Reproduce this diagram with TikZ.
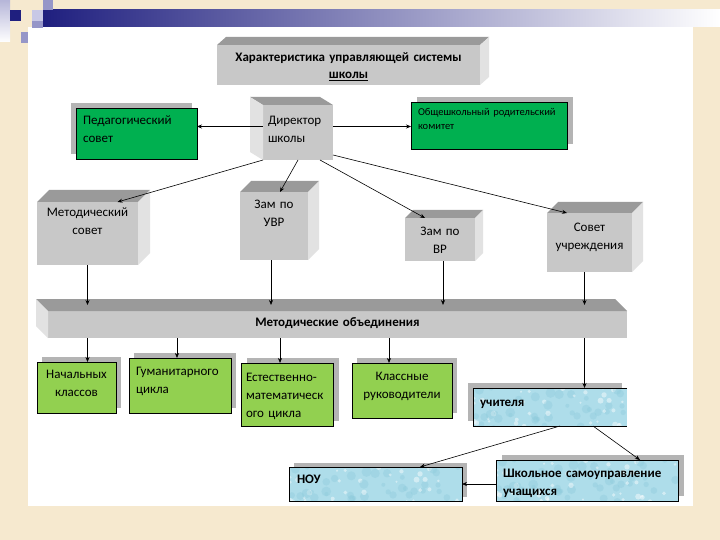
\documentclass[tikz,border=0pt]{standalone}
\usepackage{fontspec}
\setmainfont{Carlito}
\usetikzlibrary{positioning,arrows.meta,shadows,backgrounds}
\definecolor{parch}{HTML}{F6E9CF}
\definecolor{navy}{HTML}{1F1F7F}
\definecolor{lav}{HTML}{C8C8E6}
\definecolor{lavd}{HTML}{9696C8}
\definecolor{barmid}{HTML}{ABABC2}
\definecolor{frontc}{HTML}{C8C8C8}
\definecolor{topc}{HTML}{9A9A9A}
\definecolor{sidec}{HTML}{E2E2E2}
\definecolor{grn}{HTML}{00B050}
\definecolor{lgrn}{HTML}{92D050}
\definecolor{waterc}{HTML}{AEDDEA}
\definecolor{waterd}{HTML}{8ECBDC}
\definecolor{shdc}{HTML}{B4B4B4}

\begin{document}
\begin{tikzpicture}[x=1pt,y=-1pt,
  every node/.style={outer sep=0pt,inner ysep=0pt},
  fr/.style n args={4}{text width=#1pt,inner xsep=#2pt,text height=#3pt,text depth=#4pt},
  cube/.style={fill=frontc,align=center,rm},
  flat/.style={draw,line width=.8pt,rm},
  shadowed/.style 2 args={general shadow={fill=shdc,shadow xshift=#1pt,shadow yshift=#2pt}},
  water/.style={fill=waterc,path picture={
    \pgfmathsetseed{11}
    \foreach \k in {1,...,45}{
      \fill[waterd,opacity=.4] ([shift={({rnd*185},{rnd*45})}]path picture bounding box.north west) circle ({2+3*rnd});
      \fill[white,opacity=.45] ([shift={({rnd*185},{rnd*45})}]path picture bounding box.north west) circle ({1+2*rnd});
    }}},
  arr/.style={-{Stealth[length=5pt,width=4pt]},line width=.6pt},
  rm/.style={font=\fontsize{13}{18}\selectfont},
  bf/.style={font=\fontsize{13}{18}\selectfont\bfseries}]
\useasboundingbox (0,0) rectangle (720,540);
\begin{scope}[on background layer]
\fill[parch] (0,0) rectangle (720,540);
\fill[white] (28,27) rectangle (693,506);
\shade[left color=navy,middle color=barmid,right color=white] (43,10) rectangle (720,27);
\shade[top color=lavd!70,bottom color=white] (0,0) rectangle (10,42);
\fill[navy] (10,10) rectangle (21,21);
\fill[lav] (32,10) rectangle (43,21);
\fill[lavd] (43,0) rectangle (53,10);
\fill[lavd] (32,21) rectangle (43,28);
\fill[lavd] (21,32) rectangle (28,43);
\end{scope}

% title and 3d boxes
\node[cube,fr={263}{0}{17}{23},font=\fontsize{13}{17}\selectfont\bfseries] (title) at (348.5,65) {Характеристика управляющей системы\\\underline{школы}};
\node[cube,fr={60}{5}{20}{35},align=left] (dir) at (298,132.5) {Директор\\школы};
\node[cube,fr={101}{0}{15}{48}] (met) at (87.5,233.5) {Методический\\совет};
\node[cube,fr={68}{0}{16}{52}] (uvr) at (274,226) {Зам по\\УВР};
\node[cube,fr={70}{0}{18}{25}] (vr) at (440,239.5) {Зам по\\ВР};
\node[cube,fr={85}{0}{18}{41}] (sovet) at (589.5,242.5) {Совет\\учреждения};
\node[cube,fr={579}{0}{15}{12},bf] (bar) at (337.5,324.5) {Методические объединения};

\foreach \n/\dx/\dy in {title/9/8,met/12/12,uvr/11/11,vr/8/8,sovet/11/11}{
  \fill[topc] (\n.north west) -- ([shift={(\dx,-\dy)}]\n.north west) -- ([shift={(\dx,-\dy)}]\n.north east) -- (\n.north east) -- cycle;
  \fill[sidec] (\n.north east) -- ([shift={(\dx,-\dy)}]\n.north east) -- ([shift={(\dx,-\dy)}]\n.south east) -- (\n.south east) -- cycle;
}
\foreach \n/\dx/\dy in {dir/13/8,bar/12/12}{
  \fill[topc] (\n.north east) -- ([shift={(-\dx,-\dy)}]\n.north east) -- ([shift={(-\dx,-\dy)}]\n.north west) -- (\n.north west) -- cycle;
  \fill[sidec] (\n.north west) -- ([shift={(-\dx,-\dy)}]\n.north west) -- ([shift={(-\dx,-\dy)}]\n.south west) -- (\n.south west) -- cycle;
}

% flat boxes with shadows
\node[flat,fill=grn,shadowed={-5}{5},fr={107}{7}{17}{34},align=left] (ped) at (136.5,133.5) {Педагогический\\совет};
\node[flat,fill=grn,shadowed={6}{5},fr={142}{7}{14}{33},align=left,font=\fontsize{10.5}{14}\selectfont] (obsh) at (489,125.5) {Общешкольный родительский\\комитет};
\node[flat,fill=lgrn,shadowed={5}{5},fr={79}{0}{16}{35},align=center] (nach) at (76.5,387.5) {Начальных\\классов};
\node[flat,fill=lgrn,shadowed={5}{5},fr={88}{7}{17}{38},align=left] (gum) at (180,385.5) {Гуманитарного\\цикла};
\node[flat,fill=lgrn,shadowed={6}{5},fr={82}{5}{18}{45},align=left] (est) at (287,394.5) {Естественно-\\математическ\\ого цикла};
\node[flat,fill=lgrn,shadowed={5}{5},fr={100}{0}{17}{38},align=center] (kl) at (402,390.5) {Классные\\руководители};
\node[water,shadowed={-5}{5},fr={140}{7}{18}{20},align=left,bf] (uch) at (550,407) {учителя};
\draw[line width=.8pt] (uch.north east) -- (uch.north west) -- (uch.south west) -- (uch.south east);
\node[flat,water,shadowed={5}{4},fr={157}{8}{16}{18},align=left,bf] (nou) at (375.5,484) {НОУ};
\node[flat,water,shadowed={6}{5},fr={168}{7}{17}{24},align=left,bf] (shk) at (587,480.5) {Школьное самоуправление\\учащихся};

% connectors
\coordinate (bartop) at ([yshift=6pt]bar.north);
\draw[arr] ([yshift=6pt]dir.west) -- ([yshift=6pt]dir.west -| ped.east);
\draw[arr] ([yshift=6pt]dir.east) -- ([yshift=6pt]dir.east -| obsh.west);
\draw[arr] (dir.south west) -- ([xshift=30pt]met.north);
\draw[arr] (dir.south) -- ([xshift=6pt]uvr.north);
\draw[arr] ([xshift=22pt]dir.south) -- ([xshift=-15pt]vr.north);
\draw[arr] ([yshift=5pt]dir.south east) -- ([xshift=20pt]sovet.north west);
\draw[arr] (met.south) -- (met.south |- bartop);
\draw[arr] ([xshift=-3pt]uvr.south) -- ([xshift=-3pt]uvr.south |- bartop);
\draw[arr] ([xshift=3pt]vr.south) -- ([xshift=3pt]vr.south |- bartop);
\draw[arr] ([xshift=-5pt]sovet.south) -- ([xshift=-5pt]sovet.south |- bartop);
\draw[arr] (met.south |- bar.south) -- (met.south |- nach.north);
\draw[arr] ([xshift=-3pt]gum.north |- bar.south) -- ([xshift=-3pt]gum.north);
\draw[arr] ([xshift=-7pt]est.north |- bar.south) -- ([xshift=-7pt]est.north);
\draw[arr] ([xshift=-13pt]kl.north |- bar.south) -- ([xshift=-13pt]kl.north);
\draw[arr] ([xshift=-5pt]sovet.south |- bar.south) -- ([xshift=-5pt]sovet.south |- uch.north);
\draw[arr] ([xshift=10pt]uch.south) -- ([xshift=-42pt]nou.north east);
\draw[arr] ([xshift=43pt]uch.south) -- ([xshift=-38pt]shk.north east);
\draw[arr] (shk.west |- nou.east) -- (nou.east);
\end{tikzpicture}
\end{document}
